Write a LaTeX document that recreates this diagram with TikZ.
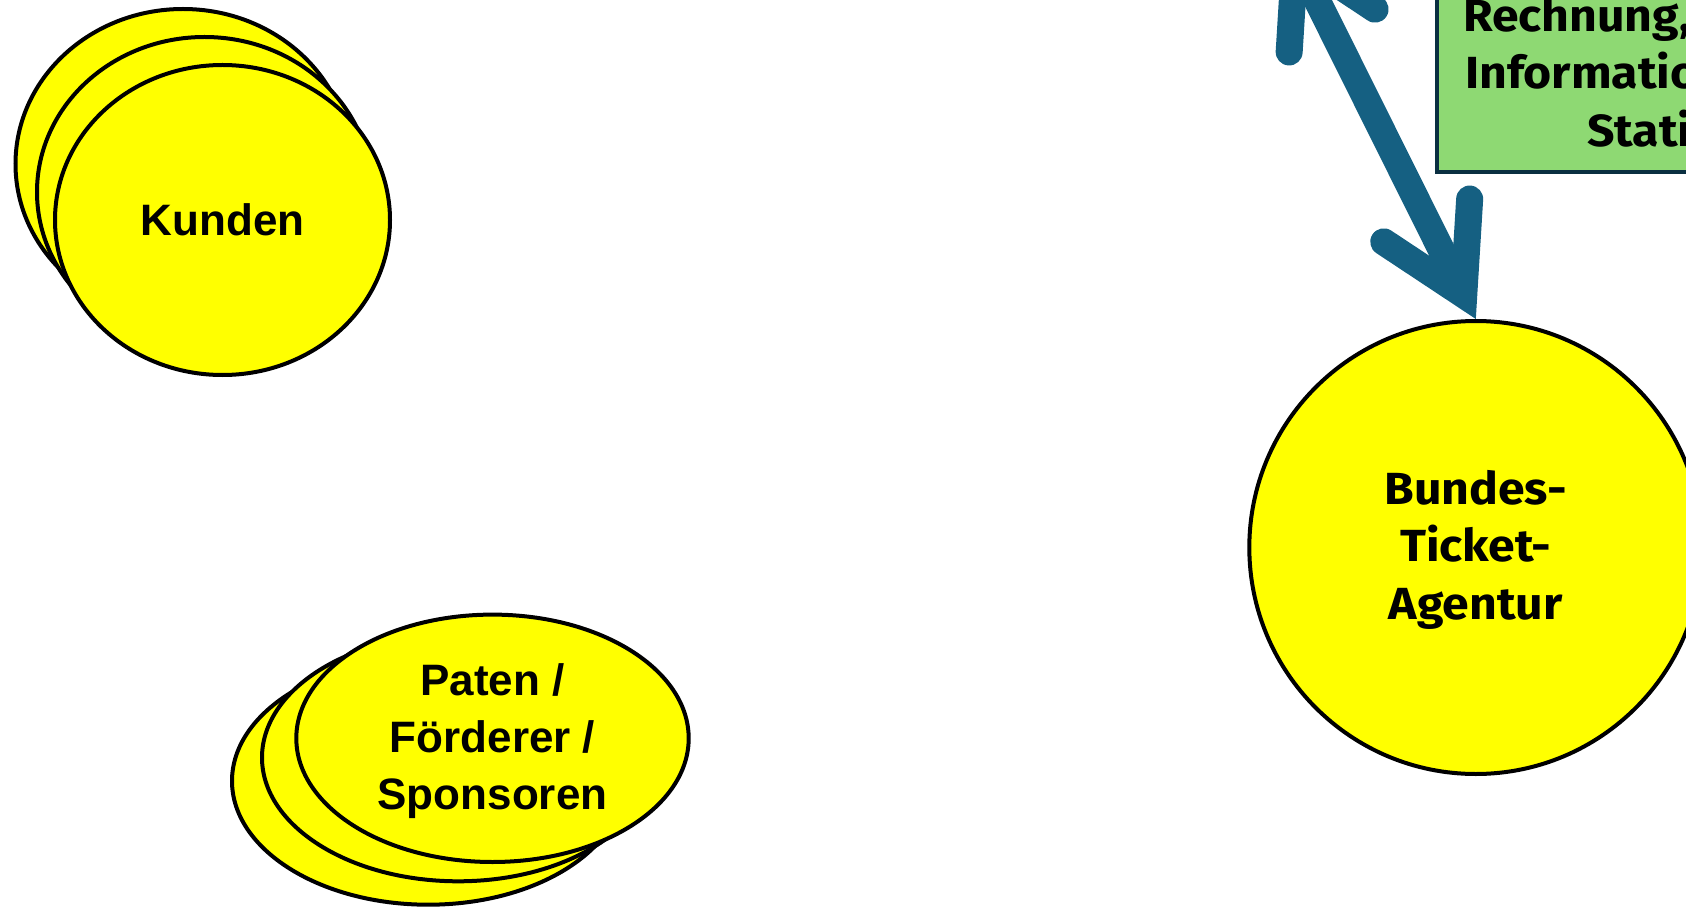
\documentclass[tikz,border=0pt]{standalone}
\usepackage{fontspec}
\setmainfont{Liberation Sans}
\newfontfamily\aptosfont{Fira Sans}[FakeStretch=1.07]
\usetikzlibrary{shapes.geometric,calc}
\definecolor{yel}{HTML}{FFFF00}
\definecolor{arrowblue}{HTML}{156082}
\definecolor{boxgreen}{HTML}{8ED973}
\definecolor{boxline}{HTML}{0A2F41}
\tikzset{
  blob/.style={ellipse, draw=black, line width=4pt, fill=yel, inner sep=0pt},
  kundenblob/.style={blob, minimum width=335pt, minimum height=310pt},
  patenblob/.style={blob, minimum width=392.4pt, minimum height=247.4pt},
  agentblob/.style={circle, draw=black, line width=4pt, fill=yel, inner sep=0pt, minimum size=453pt},
  arialtext/.style={inner sep=0pt, align=center, font=\bfseries\fontsize{44}{57}\selectfont},
  aptostext/.style={inner sep=0pt, align=center, font=\aptosfont\bfseries\fontsize{45}{57.5}\selectfont},
  infobox/.style={rectangle, draw=boxline, line width=4pt, fill=boxgreen, inner sep=0pt},
  flowline/.style={draw=arrowblue, line width=27pt, line cap=butt},
  flowhead/.style={draw=arrowblue, line width=27pt, line cap=round, line join=miter, miter limit=10},
}
\begin{document}
\begin{tikzpicture}[x=1pt,y=-1pt]
\useasboundingbox (0,0) rectangle (1686,909);
\clip (0,0) rectangle (1686,909);

% Kunden stack
\node[kundenblob] (k3) at (183,164) {};
\node[kundenblob] (k2) at (204.5,192) {};
\node[kundenblob] (k1) at (222.5,220) {};
\node[arialtext] (kt) at (k1.center) {Kunden};

% Paten stack
\node[patenblob] (p3) at (428.2,781) {};
\node[patenblob] (p2) at (458.2,757.6) {};
\node[patenblob] (p1) at (492.5,738.3) {};
\node[arialtext] (pt) at ($(p1.center)+(0,3)$) {Paten /\\F\"orderer /\\Sponsoren};

% Agentur
\node[agentblob] (bta) at (1475.8,547.5) {};
\node[aptostext] (btat) at ($(bta.center)+(0,2)$) {Bundes-\\Ticket-\\Agentur};

% Info box (cut by the frame)
\node[infobox, minimum width=463pt, minimum height=372pt] (info) at (1668.5,-14) {};
\node[aptostext, anchor=base west] (r1) at (1463,32) {Rechnung,};
\node[aptostext, anchor=base west] (r2) at (1465,89) {Information};
\node[aptostext, anchor=base west] (r3) at (1587,147) {Statistik};

% double arrow
\coordinate (topend) at (1283,-68);
\coordinate (tipB) at (bta.north);
\coordinate (vB) at ($(tipB)!27pt!(topend)$);
\coordinate (vT) at ($(topend)!27pt!(tipB)$);
\coordinate (bB1) at ($(vB)!96pt!30:(topend)$);
\coordinate (bB2) at ($(vB)!96pt!-30:(topend)$);
\coordinate (bT1) at ($(vT)!96pt!30:(tipB)$);
\coordinate (bT2) at ($(vT)!96pt!-30:(tipB)$);
\draw[flowline] (vT) -- (vB);
\draw[flowhead] (bB1) -- (vB) -- (bB2);
\draw[flowhead] (bT1) -- (vT) -- (bT2);
\end{tikzpicture}
\end{document}
